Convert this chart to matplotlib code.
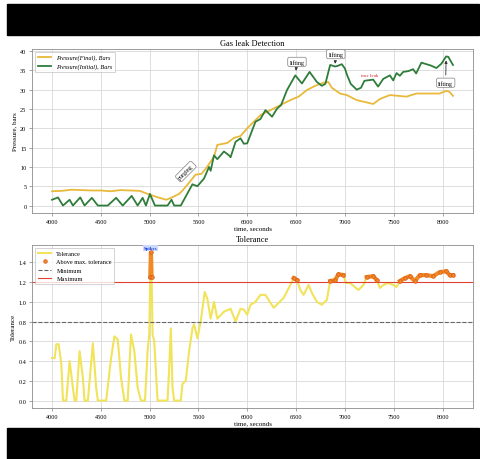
import numpy as np
import matplotlib
matplotlib.use("Agg")
from matplotlib import pyplot as plt
from matplotlib.patches import Rectangle

plt.rcParams['font.family'] = ['Liberation Serif', 'DejaVu Serif']

# pressure, initial (green)
t_initial = [4000, 4061, 4112, 4180, 4214, 4289, 4333, 4408, 4469, 4571, 4656, 4724,
             4816, 4877, 4928, 4962, 5003, 5054, 5183, 5224, 5251, 5319, 5438, 5489,
             5557, 5608, 5625, 5659, 5693, 5761, 5812, 5829, 5880, 5931, 5965, 5999,
             6084, 6135, 6186, 6254, 6305, 6346, 6407, 6492, 6560, 6638, 6713, 6764,
             6800, 6849, 6900, 6930, 6968, 7000, 7022, 7060, 7121, 7165, 7200, 7290,
             7340, 7393, 7461, 7495, 7529, 7563, 7597, 7650, 7699, 7730, 7784, 7835,
             7886, 7937, 7988, 8037, 8060, 8075, 8107]
p_initial = [1.5, 2.1, 0.0, 1.5, 0.0, 2.1, 0.0, 2.0, 0.0, 0.0, 2.0, 0.0,
             2.5, 0.0, 2.0, 0.0, 3.0, 0.0, 0.0, 1.5, 0.0, 0.0, 5.5, 5.0,
             7.0, 10.0, 9.0, 13.0, 12.0, 14.0, 13.0, 12.5, 16.5, 17.4, 16.0, 16.1,
             21.7, 22.4, 24.7, 23.0, 25.1, 26.0, 29.9, 33.7, 31.6, 34.6, 32.0, 31.0,
             31.5, 36.4, 36.0, 36.2, 36.6, 35.5, 33.8, 31.5, 30.0, 30.5, 32.3, 32.6,
             30.8, 32.8, 33.7, 32.4, 34.3, 33.6, 34.6, 34.8, 35.3, 34.2, 37.0, 36.6,
             36.2, 35.6, 36.7, 38.6, 38.5, 37.8, 36.4]

# pressure, final (yellow)
t_final = [4000, 4100, 4200, 4300, 4400, 4500, 4600, 4700, 4800, 4900, 4950, 5003,
           5050, 5100, 5170, 5220, 5251, 5300, 5330, 5400, 5470, 5530, 5580, 5660,
           5693, 5795, 5863, 5931, 5999, 6135, 6237, 6339, 6441, 6526, 6611, 6696,
           6780, 6830, 6866, 6951, 7019, 7121, 7223, 7291, 7359, 7461, 7631, 7733,
           7835, 7971, 8039, 8073, 8107]
p_final = [3.7, 3.8, 4.1, 4.0, 3.9, 3.9, 3.7, 4.0, 3.9, 3.8, 3.3, 2.8,
           2.4, 2.0, 1.5, 2.0, 2.4, 3.0, 3.7, 5.8, 8.0, 8.2, 9.7, 12.7,
           15.7, 16.2, 17.5, 18.0, 20.0, 23.4, 24.7, 26.0, 27.3, 28.2, 29.9, 31.0,
           31.8, 32.0, 30.5, 29.0, 28.6, 27.3, 26.7, 26.3, 27.6, 28.6, 28.2, 29.0,
           29.0, 29.0, 29.7, 29.4, 28.4]

# tolerance
t_tol = [4000, 4027, 4044, 4068, 4095, 4112, 4146, 4163, 4180, 4214, 4231, 4248,
         4282, 4316, 4333, 4367, 4418, 4452, 4469, 4554, 4605, 4639, 4673, 4707,
         4741, 4775, 4809, 4843, 4877, 4911, 4952, 4979, 4996, 5006, 5013, 5020,
         5030, 5047, 5081, 5183, 5200, 5217, 5234, 5251, 5319, 5336, 5370, 5404,
         5438, 5455, 5489, 5523, 5564, 5591, 5625, 5659, 5693, 5761, 5829, 5880,
         5931, 5965, 5999, 6033, 6084, 6135, 6186, 6237, 6271, 6322, 6373, 6441,
         6475, 6509, 6543, 6577, 6628, 6662, 6713, 6764, 6815, 6849, 6900, 6934,
         6985, 7012, 7053, 7138, 7189, 7223, 7291, 7325, 7359, 7393, 7444, 7495,
         7529, 7563, 7614, 7665, 7716, 7767, 7835, 7903, 7971, 8039, 8073, 8107]
tol = [0.43, 0.43, 0.57, 0.57, 0.37, 0.0, 0.0, 0.2, 0.4, 0.13, 0.0, 0.0,
       0.5, 0.23, 0.0, 0.0, 0.58, 0.13, 0.0, 0.0, 0.43, 0.65, 0.62, 0.23,
       0.0, 0.0, 0.67, 0.5, 0.13, 0.0, 0.0, 0.5, 0.67, 1.25, 1.5, 1.25,
       0.67, 0.6, 0.0, 0.0, 0.33, 0.73, 0.13, 0.0, 0.0, 0.17, 0.2, 0.5,
       0.73, 0.77, 0.63, 0.8, 1.1, 1.03, 0.83, 1.0, 0.83, 0.9, 0.93, 0.8,
       0.93, 0.92, 0.87, 0.97, 1.0, 1.07, 1.07, 0.99, 0.94, 0.99, 1.04, 1.17,
       1.24, 1.22, 1.12, 1.07, 1.17, 1.09, 1.0, 0.97, 1.02, 1.21, 1.22, 1.28,
       1.27, 1.19, 1.19, 1.12, 1.17, 1.25, 1.26, 1.22, 1.14, 1.17, 1.19, 1.17,
       1.15, 1.21, 1.24, 1.26, 1.21, 1.27, 1.27, 1.26, 1.3, 1.31, 1.27, 1.27]

tol_min = 0.8
tol_max = 1.2

W, H = 480, 460
fig = plt.figure(figsize=(W / 100, H / 100), dpi=100, facecolor='white')

# black video bars
fig.add_artist(Rectangle((7 / W, 1 - 36 / H), 472 / W, 31 / H,
                         transform=fig.transFigure, color='black', zorder=0))
fig.add_artist(Rectangle((7 / W, 0), 472 / W, 31 / H,
                         transform=fig.transFigure, color='black', zorder=0))


def style_axis(ax):
    ax.grid(True, color='#d8d8d8', lw=0.6)
    ax.set_axisbelow(True)
    ax.tick_params(labelsize=4.5, length=2, width=0.5, color='0.5', pad=2)
    for s in ax.spines.values():
        s.set_color('0.55')
        s.set_linewidth(0.6)


ax1 = fig.add_axes([32 / W, 1 - 214 / H, 441 / W, 164 / H])
ax2 = fig.add_axes([32 / W, 1 - 409 / H, 441 / W, 163 / H])

# --- pressure ---
ax1.plot(t_final, p_final, color='#e9b93c', lw=1.3, label='Pressure(Final), Bars')
ax1.plot(t_initial, p_initial, color='#2f7d3a', lw=1.3, label='Pressure(Initial), Bars')
style_axis(ax1)
ax1.set_xticks([4000, 4500, 5000, 5500, 6000, 6500, 7000, 7500, 8000])
ax1.set_yticks(range(0, 41, 5))
ax1.set_title('Gas leak Detection', fontsize=6, pad=3)
ax1.set_xlabel('time, seconds', fontsize=5, labelpad=1)
ax1.set_ylabel('Pressure, bars', fontsize=5, labelpad=2)
leg = ax1.legend(loc='upper left', prop={'style': 'italic', 'size': 4.5},
                 frameon=True, fancybox=False, borderpad=0.4, handlelength=2.2)
leg.get_frame().set_edgecolor('0.7')
leg.get_frame().set_linewidth(0.5)

box = dict(boxstyle='round,pad=0.3', fc='white', ec='0.5', lw=0.5)
arrow = dict(arrowstyle='-|>', color='0.2', lw=0.6, mutation_scale=4)
ax1.annotate('lifting', xy=(6495, 34.2), xytext=(6509, 37.2), fontsize=4.3,
             ha='center', va='center', bbox=box, arrowprops=arrow)
ax1.annotate('lifting', xy=(6900, 36.7), xytext=(6907, 39.2), fontsize=4.3,
             ha='center', va='center', bbox=box, arrowprops=arrow)
ax1.annotate('lifting', xy=(8037, 38.3), xytext=(8032, 31.8), fontsize=4.3,
             ha='center', va='center', bbox=box, arrowprops=arrow)
ax1.text(5370, 8.8, 'purging', fontsize=4.3, rotation=45, ha='center', va='center',
         bbox=box)
ax1.text(7250, 33.7, 'true leak', fontsize=3.5, color='#cc2020', ha='center', va='center')

# --- tolerance ---
t_tol_a = np.array(t_tol)
tol_a = np.array(tol)
above = tol_a > tol_max
ax2.plot(t_tol_a, tol_a, color='#f1e35a', lw=1.5, label='Tolerance')
ax2.plot(t_tol_a, np.where(above, tol_a, np.nan), color='#f08a24', lw=3, zorder=3)
ax2.plot(t_tol_a[above], tol_a[above], 'o', ms=2.6, mfc='#f08a24', mec='#d9531e',
         mew=0.5, ls='none', zorder=4, label='Above max. tolerance')
ax2.axhline(tol_min, color='0.4', lw=0.8, ls='--', label='Minimum')
ax2.axhline(tol_max, color='#e04030', lw=0.8, label='Maximum')
style_axis(ax2)
ax2.set_xticks([4000, 4500, 5000, 5500, 6000, 6500, 7000, 7500, 8000])
ax2.set_yticks([0.0, 0.2, 0.4, 0.6, 0.8, 1.0, 1.2, 1.4])
ax2.set_title('Tolerance', fontsize=6, pad=3)
ax2.set_xlabel('time, seconds', fontsize=5, labelpad=1)
ax2.set_ylabel('Tolerance', fontsize=5, labelpad=2)
leg2 = ax2.legend(loc='upper left', fontsize=4.5, frameon=True, fancybox=False,
                  borderpad=0.4, handlelength=2.2)
leg2.get_frame().set_edgecolor('0.7')
leg2.get_frame().set_linewidth(0.5)
ax2.text(5013, 1.545, 'Spikes', fontsize=3.5, color='#1f3fd0', fontweight='bold',
         ha='center', va='center',
         bbox=dict(boxstyle='square,pad=0.15', fc='#c8d8ff', ec='none'))

fig.savefig('out.png', dpi=100, facecolor=fig.get_facecolor())
